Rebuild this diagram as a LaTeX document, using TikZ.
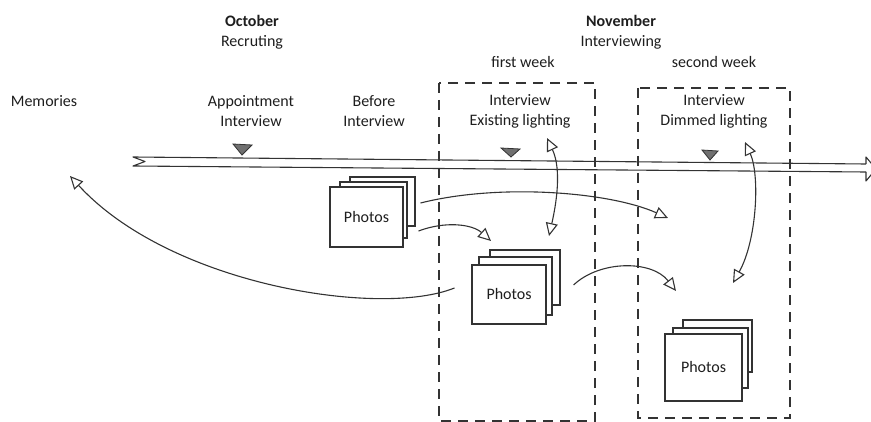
\documentclass[tikz,border=0pt]{standalone}
\usepackage{fontspec}
\setmainfont{Carlito}
\usetikzlibrary{arrows.meta}
\definecolor{ink}{HTML}{1E1E1E}
\definecolor{pen}{HTML}{333333}
\definecolor{markfill}{HTML}{707070}
\begin{document}
\begin{tikzpicture}[x=1pt,y=-1pt,
  lbl/.style={font=\fontsize{16}{20}\selectfont, align=center, inner sep=0pt, text=ink},
  ln/.style={draw=pen, line width=1.1pt},
  arr/.style={ln, -{Triangle[open, length=13pt, width=12pt, line width=1.1pt]}},
  darr/.style={ln, {Triangle[open, length=13pt, width=12pt, line width=1.1pt]}-{Triangle[open, length=13pt, width=12pt, line width=1.1pt]}},
  photo/.style={draw=pen, fill=white, line width=1.1pt, inner sep=0pt, font=\fontsize{16}{20}\selectfont, text=ink},
  dbox/.style={draw=pen, line width=1.2pt, dash pattern=on 10pt off 7pt},
  tmark/.style={draw=pen, fill=markfill, line width=0.8pt}
]
\useasboundingbox (0,0) rectangle (871,422);

% headings
\node[lbl] (oct) at (252,32.5) {\textbf{October}\\Recruting};
\node[lbl] (nov) at (621,32.5) {\textbf{November}\\Interviewing};
\node[lbl] (w1) at (523,62) {first week};
\node[lbl] (w2) at (714,62) {second week};

% labels
\node[lbl] (mem) at (44,101) {Memories};
\node[lbl] (app) at (251,111) {Appointment\\Interview};
\node[lbl] (bef) at (374,111) {Before\\Interview};
\node[lbl] (int1) at (520,111) {Interview\\Existing lighting};
\node[lbl] (int2) at (714,111) {Interview\\Dimmed lighting};

% dashed boxes
\draw[dbox] (439,83) rectangle (595,421);
\draw[dbox] (638,88) rectangle (790,418);

% timeline
\draw[ln, line join=round] (866,164) -- (133,157) -- (145,161.5) -- (133,166) -- (866,172);
\draw[ln, line join=round] (866,164) -- (866,157) -- (876,169) -- (866,181) -- (866,172);

% markers
\filldraw[tmark] (233,144) -- (252,145) -- (242,155) -- cycle;
\filldraw[tmark] (501,148) -- (520,149) -- (511,157) -- cycle;
\filldraw[tmark] (702,150) -- (718,151) -- (710,160) -- cycle;

% photo stacks
\node[photo, minimum width=65pt, minimum height=49pt] (p1b) at (382.5,201.5) {};
\node[photo, minimum width=67pt, minimum height=56pt] (p1m) at (373.5,210) {};
\node[photo, minimum width=73pt, minimum height=60pt] (p1) at (366.5,217) {Photos};

\node[photo, minimum width=70pt, minimum height=55pt] (p2b) at (525,277.5) {};
\node[photo, minimum width=73pt, minimum height=58pt] (p2m) at (515.5,286) {};
\node[photo, minimum width=74pt, minimum height=59pt] (p2) at (509,294.5) {Photos};

\node[photo, minimum width=69pt, minimum height=52pt] (p3b) at (717.5,346) {};
\node[photo, minimum width=75pt, minimum height=60pt] (p3m) at (710.5,358) {};
\node[photo, minimum width=77pt, minimum height=67pt] (p3) at (703.5,367.5) {Photos};

% connector ends
\coordinate (memtip) at (70,176);
\coordinate (a2end) at (668,218);
\coordinate (a3end) at (491,241);
\coordinate (a4end) at (676,291);
\coordinate (a5top) at (547,138);
\coordinate (a5bot) at (549,236);
\coordinate (a6top) at (745,142);
\coordinate (a6bot) at (733,283);

% connectors
\draw[arr] ([xshift=-17pt,yshift=6.5pt]p2.west) .. controls (380,318) and (170,285) .. (memtip);
\draw[arr] ([xshift=17pt,yshift=14pt]p1.east) .. controls (500,183) and (610,192) .. (a2end);
\draw[arr] ([xshift=15pt,yshift=-14pt]p1.east) .. controls (445,221) and (472,224) .. (a3end);
\draw[arr] ([xshift=27pt,yshift=9.5pt]p2.east) .. controls (600,260) and (652,260) .. (a4end);
\draw[darr] (a5top) .. controls (562,170) and (556,205) .. (a5bot);
\draw[darr] (a6top) .. controls (760,175) and (757,240) .. (a6bot);
\end{tikzpicture}
\end{document}
